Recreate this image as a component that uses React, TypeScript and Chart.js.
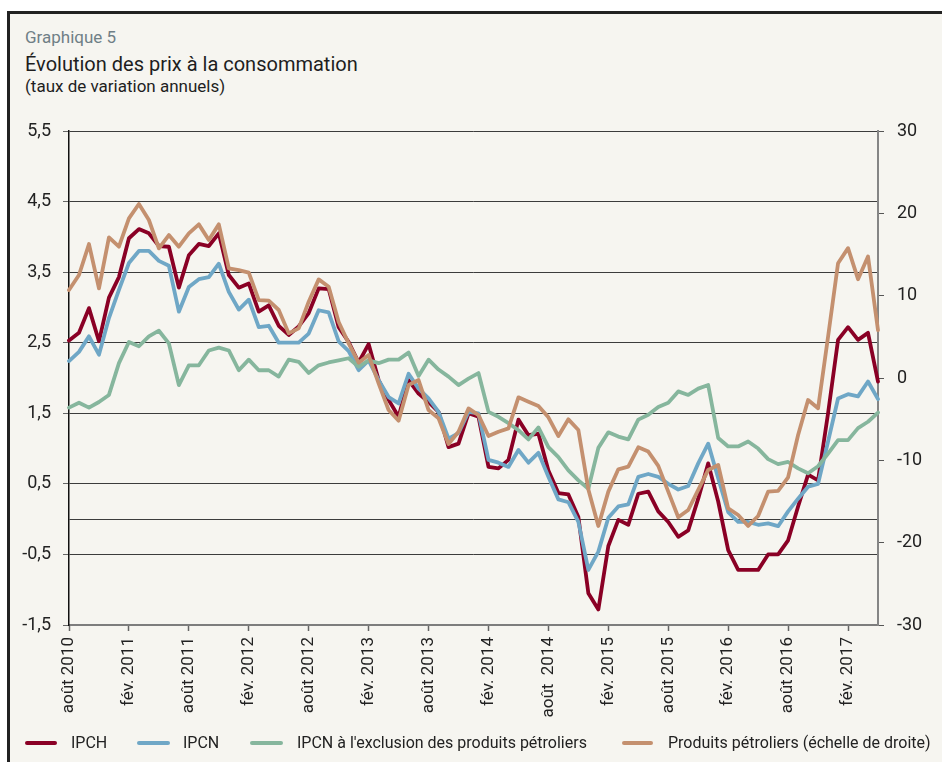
import React, { useEffect, useRef } from "react";
import { Chart, registerables } from "chart.js";

Chart.register(...registerables);

// Month categories: Aug 2010 .. May 2017
const MONTHS = ["janv.", "févr.", "mars", "avr.", "mai", "juin", "juil.", "août", "sept.", "oct.", "nov.", "déc."];
const categories: string[] = [];
for (let k = 0; k < 82; k++) {
  const m = (7 + k) % 12;
  const y = 2010 + Math.floor((7 + k) / 12);
  categories.push(`${MONTHS[m]} ${y}`);
}

// Labels shown on the x axis (every 6 months)
const tickLabels = [
  "août 2010", "fév. 2011", "août 2011", "fév. 2012", "août 2012", "fév. 2013", "août 2013",
  "fév. 2014", "août  2014", "fév. 2015", "août 2015", "fév. 2016", "août 2016", "fév. 2017",
];

const leftTicks = [-1.5, -0.5, 0, 0.5, 1.5, 2.5, 3.5, 4.5, 5.5];

const ipch = [
  2.53, 2.64, 2.99, 2.52, 3.14, 3.43, 3.98, 4.11, 4.05, 3.87, 3.86, 3.28, 3.74, 3.9, 3.87, 4.05,
  3.46, 3.28, 3.34, 2.94, 3.03, 2.74, 2.61, 2.73, 2.92, 3.27, 3.26, 2.72, 2.51, 2.22, 2.48, 1.97,
  1.69, 1.45, 1.97, 1.78, 1.66, 1.52, 1.02, 1.07, 1.5, 1.45, 0.74, 0.72, 0.84, 1.41, 1.19, 1.21,
  0.69, 0.37, 0.35, 0.03, -1.05, -1.28, -0.38, -0.01, -0.08, 0.36, 0.39, 0.11, -0.04, -0.25, -0.16,
  0.29, 0.79, 0.25, -0.44, -0.72, -0.72, -0.72, -0.5, -0.5, -0.3, 0.18, 0.63, 0.55, 1.5, 2.54,
  2.72, 2.54, 2.64, 1.95,
];

const ipcn = [
  2.24, 2.37, 2.59, 2.33, 2.85, 3.25, 3.63, 3.8, 3.8, 3.66, 3.59, 2.94, 3.29, 3.4, 3.43, 3.62,
  3.22, 2.97, 3.11, 2.72, 2.74, 2.5, 2.5, 2.5, 2.63, 2.96, 2.93, 2.52, 2.38, 2.11, 2.25, 1.97,
  1.73, 1.64, 2.06, 1.85, 1.71, 1.52, 1.14, 1.22, 1.52, 1.5, 0.84, 0.8, 0.74, 0.98, 0.8, 0.94,
  0.6, 0.28, 0.24, -0.04, -0.72, -0.46, 0.02, 0.18, 0.21, 0.6, 0.64, 0.6, 0.5, 0.42, 0.47,
  0.79, 1.07, 0.58, 0.1, -0.04, -0.04, -0.08, -0.06, -0.1, 0.11, 0.29, 0.46, 0.5, 1.1, 1.71,
  1.77, 1.74, 1.95, 1.7,
];

const ipcnExPetrol = [
  1.58, 1.65, 1.58, 1.66, 1.76, 2.21, 2.51, 2.45, 2.59, 2.67, 2.49, 1.9, 2.18, 2.18, 2.39, 2.43,
  2.39, 2.11, 2.26, 2.11, 2.11, 2.02, 2.26, 2.23, 2.07, 2.18, 2.22, 2.25, 2.28, 2.16, 2.25, 2.21,
  2.26, 2.26, 2.36, 2.03, 2.26, 2.12, 2.02, 1.9, 1.99, 2.07, 1.52, 1.45, 1.36, 1.26, 1.13, 1.3,
  1.02, 0.88, 0.69, 0.55, 0.43, 1.01, 1.23, 1.17, 1.13, 1.41, 1.48, 1.59, 1.65, 1.81, 1.76,
  1.85, 1.9, 1.15, 1.03, 1.03, 1.1, 1.0, 0.85, 0.78, 0.81, 0.72, 0.65, 0.75, 0.93, 1.12,
  1.12, 1.29, 1.38, 1.51,
];

const petrol = [
  10.68, 12.51, 16.27, 10.89, 17.08, 15.95, 19.39, 21.13, 19.19, 15.74, 17.36, 15.95, 17.57, 18.66,
  16.76, 18.66, 13.32, 13.11, 12.79, 9.47, 9.39, 8.26, 5.42, 6.03, 9.27, 11.98, 11.09, 6.8, 4.21,
  1.86, 2.79, -0.65, -3.89, -5.18, -0.85, -0.25, -3.89, -4.9, -8.02, -6.52, -3.69, -4.5, -7.05,
  -6.52, -6.12, -2.35, -2.88, -3.4, -4.78, -7.05, -5.02, -6.32, -13.53, -17.98, -13.8, -11.09,
  -10.77, -8.42, -8.94, -10.68, -13.8, -16.92, -16.03, -13.6, -11.17, -10.56, -15.83, -16.64,
  -17.97, -16.76, -13.8, -13.72, -12.06, -6.92, -2.67, -3.68, 5.0, 13.94, 15.77, 12.0, 14.76, 5.81,
];

const seriesNames = ["IPCH", "IPCN", "IPCN à l'exclusion des produits pétroliers", "Produits pétroliers (échelle de droite)"];
const seriesColors = ["#8a0025", "#6fa7c6", "#86b69d", "#c4906f"];

const FONT = "Roboto, 'Noto Sans', sans-serif";
const fmtLeft = (v: number) => (v === 0 ? "" : String(v).replace(".", ","));

export default function App() {
  const ref = useRef<HTMLCanvasElement | null>(null);

  useEffect(() => {
    if (!ref.current) return;
    Chart.defaults.font.family = FONT;
    const chart = new Chart(ref.current, {
      type: "line",
      data: {
        labels: categories,
        datasets: [
          { label: seriesNames[0], data: ipch, yAxisID: "y", borderColor: seriesColors[0], order: 3 },
          { label: seriesNames[1], data: ipcn, yAxisID: "y", borderColor: seriesColors[1], order: 2 },
          { label: seriesNames[2], data: ipcnExPetrol, yAxisID: "y", borderColor: seriesColors[2], order: 1 },
          { label: seriesNames[3], data: petrol, yAxisID: "y2", borderColor: seriesColors[3], order: 0 },
        ].map((d) => ({
          ...d,
          borderWidth: 3.8,
          pointRadius: 0,
          tension: 0,
          fill: false,
          borderJoinStyle: "round" as const,
          borderCapStyle: "round" as const,
        })),
      },
      options: {
        responsive: false,
        animation: false,
        events: [],
        layout: { padding: { left: 10, right: 0, top: 131, bottom: 17 } },
        plugins: { legend: { display: false }, title: { display: false }, tooltip: { enabled: false } },
        scales: {
          x: {
            type: "category",
            offset: false,
            grid: {
              display: true,
              drawOnChartArea: false,
              drawTicks: true,
              tickLength: 6,
              tickWidth: 1.5,
              color: "rgba(0,0,0,0)",
              tickColor: (c: any) => (c.index % 6 === 0 ? "#666" : "rgba(0,0,0,0)"),
            },
            border: { display: true, color: "#7d7d7d", width: 2 },
            ticks: {
              autoSkip: false,
              maxRotation: 90,
              minRotation: 90,
              padding: 6,
              color: "#222",
              font: { size: 17, family: FONT },
              callback: (_v: any, i: number) => (i % 6 === 0 ? tickLabels[i / 6] : ""),
            },
            afterFit: (s: any) => {
              s.height = 120;
            },
          },
          y: {
            position: "left",
            min: -1.5,
            max: 5.5,
            afterBuildTicks: (s: any) => {
              s.ticks = leftTicks.map((v) => ({ value: v }));
            },
            grid: {
              color: "#3c3c3c",
              lineWidth: 1,
              drawTicks: true,
              tickLength: 6,
              tickColor: (c: any) => (c.tick && c.tick.value === 0 ? "rgba(0,0,0,0)" : "#666"),
            },
            border: { display: true, color: "#111", width: 1.5 },
            ticks: {
              padding: 12,
              color: "#222",
              font: { size: 18, family: FONT },
              callback: (v: any) => fmtLeft(Number(v)),
            },
            afterFit: (s: any) => {
              s.width = 59;
            },
          },
          y2: {
            position: "right",
            min: -30,
            max: 30,
            grid: { drawOnChartArea: false, drawTicks: true, tickLength: 6, tickColor: "#555", color: "#555" },
            border: { display: true, color: "#858585", width: 2 },
            ticks: {
              stepSize: 10,
              padding: 13,
              color: "#222",
              font: { size: 18, family: FONT },
            },
            afterFit: (s: any) => {
              s.width = 64;
            },
          },
        },
      },
    });
    return () => chart.destroy();
  }, []);

  const legendItems = [
    { line: [25, 57], text: 71 },
    { line: [137, 170], text: 183 },
    { line: [250, 283], text: 297 },
    { line: [622, 653], text: 668 },
  ];

  return (
    <div style={{ position: "fixed", left: 0, top: 0, width: 942, height: 762, overflow: "hidden", background: "#ffffff", fontFamily: FONT }}>
      <div
        style={{
          position: "absolute",
          left: 7,
          top: 11,
          width: 935,
          height: 751,
          boxSizing: "border-box",
          borderTop: "3px solid #222",
          borderLeft: "3px solid #222",
          background: "#f6f5f0",
        }}
      />
      <div style={{ position: "absolute", left: 25, top: 29, fontSize: 17, lineHeight: "17px", color: "#6f7f86", whiteSpace: "nowrap" }}>
        Graphique 5
      </div>
      <div style={{ position: "absolute", left: 25, top: 54, fontSize: 20, lineHeight: "20px", color: "#1e1e1e", whiteSpace: "nowrap" }}>
        Évolution des prix à la consommation
      </div>
      <div style={{ position: "absolute", left: 25, top: 77.5, fontSize: 17, lineHeight: "17px", color: "#1e1e1e", whiteSpace: "nowrap" }}>
        (taux de variation annuels)
      </div>
      <canvas ref={ref} width={942} height={762} style={{ position: "absolute", left: 0, top: 0, width: 942, height: 762 }} />
      {legendItems.map((it, i) => (
        <React.Fragment key={i}>
          <div
            style={{
              position: "absolute",
              left: it.line[0],
              top: 741,
              width: it.line[1] - it.line[0],
              height: 4,
              borderRadius: 2,
              background: seriesColors[i],
            }}
          />
          <div style={{ position: "absolute", left: it.text, top: 734.5, fontSize: 16, lineHeight: "16px", color: "#222", whiteSpace: "nowrap" }}>
            {seriesNames[i]}
          </div>
        </React.Fragment>
      ))}
    </div>
  );
}
